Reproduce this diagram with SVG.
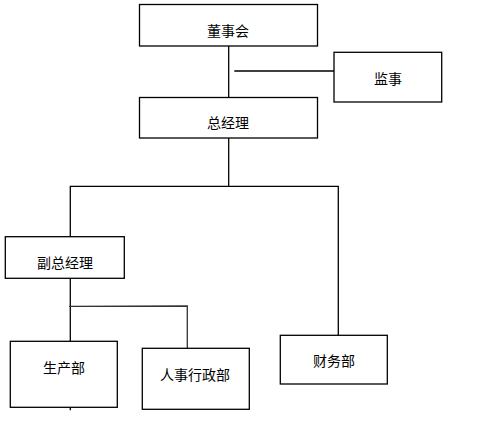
<svg xmlns="http://www.w3.org/2000/svg" width="479" height="438" viewBox="0 0 479 438">
<style>
.box{fill:#fff;stroke:#000;stroke-width:1.3}
.ln{fill:none;stroke:#000;stroke-width:1.3}
.t{font-family:"Noto Sans CJK SC","Noto Sans",sans-serif;font-size:14px;fill:#000;text-anchor:middle}
</style>
<rect width="479" height="438" fill="#fff"/>
<g id="connectors">
<line class="ln" x1="228.7" y1="46" x2="228.7" y2="97.5"/>
<line class="ln" x1="234.3" y1="71" x2="334" y2="71"/>
<line class="ln" x1="228.7" y1="138" x2="228.7" y2="186.3"/>
<polyline class="ln" points="70.3,236.7 70.3,186.3 338.3,186.3 338.3,335.3"/>
<line class="ln" x1="70.3" y1="278.3" x2="70.3" y2="341.3"/>
<polyline class="ln" points="69,306.3 187.3,306 187.3,348.3" style="stroke:#333"/>
<line class="ln" x1="70.3" y1="407.3" x2="70.3" y2="410.3"/>
</g>
<g id="n_board"><rect class="box" x="139.5" y="4.5" width="178" height="41.5"/><text class="t" x="228" y="36">董事会</text></g>
<g id="n_supervisor"><rect class="box" x="334" y="52.3" width="107.7" height="49.7"/><text class="t" x="388" y="84">监事</text></g>
<g id="n_gm"><rect class="box" x="139.5" y="97.5" width="178" height="40.5"/><text class="t" x="228" y="128">总经理</text></g>
<g id="n_dgm"><rect class="box" x="5.3" y="236.7" width="119" height="41.6"/><text class="t" x="65" y="268">副总经理</text></g>
<g id="n_prod"><rect class="box" x="10.3" y="341.3" width="107" height="66"/><text class="t" x="64" y="373">生产部</text></g>
<g id="n_hr"><rect class="box" x="142.3" y="348.3" width="107" height="61"/><text class="t" x="195" y="379.5">人事行政部</text></g>
<g id="n_fin"><rect class="box" x="280.3" y="335.3" width="107" height="48.7"/><text class="t" x="334" y="366">财务部</text></g>
</svg>
